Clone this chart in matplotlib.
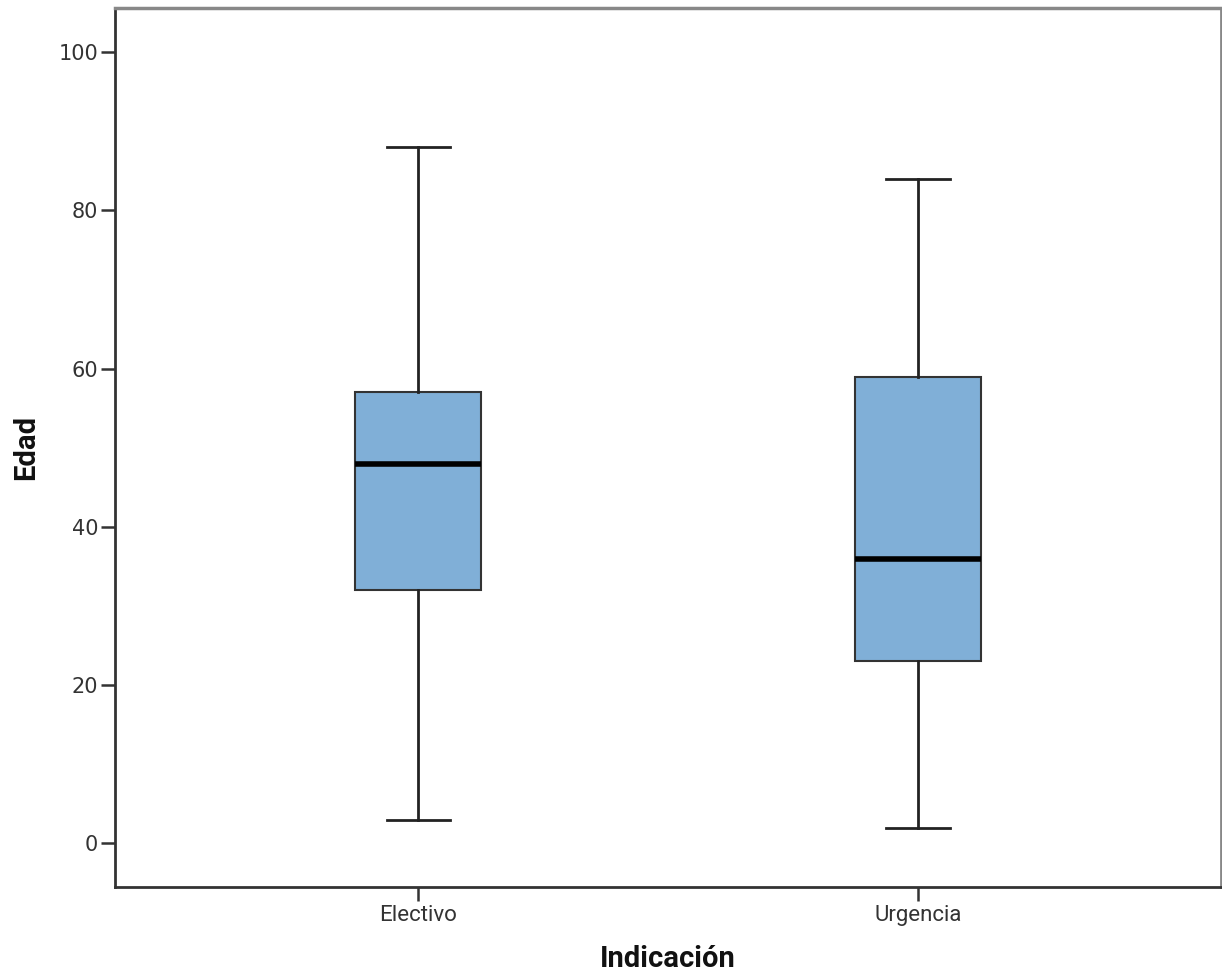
import matplotlib
matplotlib.use("Agg")
import matplotlib.pyplot as plt

# values
categories = ["Electivo", "Urgencia"]
whisker_low = [3, 2]
q1 = [32, 23]
median = [48, 36]
q3 = [57, 59]
whisker_high = [88, 84]
yticks = [0, 20, 40, 60, 80, 100]

box_color = "#80afd7"
narrow = ["Roboto", "DejaVu Sans"]

stats = []
for i, name in enumerate(categories):
    stats.append({
        "label": name,
        "whislo": whisker_low[i],
        "q1": q1[i],
        "med": median[i],
        "q3": q3[i],
        "whishi": whisker_high[i],
        "fliers": [],
    })

fig = plt.figure(figsize=(12.22, 9.76), dpi=100)
ax = fig.add_axes([0.0941, 0.0912, 0.9051, 0.9006])

ax.bxp(stats, positions=[1, 2], widths=0.253, patch_artist=True,
       showfliers=False,
       boxprops=dict(facecolor=box_color, edgecolor="#333333", linewidth=1.5),
       medianprops=dict(color="black", linewidth=4),
       whiskerprops=dict(color="#222222", linewidth=2),
       capprops=dict(color="#222222", linewidth=2),
       capwidths=0.127)

ax.set_xlim(0.393, 2.607)
ax.set_ylim(-5.5, 105.56)
ax.set_yticks(yticks)
ax.set_yticklabels([str(t) for t in yticks], fontsize=15, color="#333333")
ax.set_xticks([1, 2])
ax.set_xticklabels(categories, fontsize=16, color="#333333", family=narrow)

ax.tick_params(axis="both", direction="out", length=10, width=1.8, color="#333333")
ax.tick_params(axis="y", pad=2)
ax.tick_params(axis="x", pad=3)

ax.spines["left"].set_color("#333333")
ax.spines["left"].set_linewidth(2)
ax.spines["bottom"].set_color("#333333")
ax.spines["bottom"].set_linewidth(2)
ax.spines["top"].set_color("#888888")
ax.spines["top"].set_linewidth(2.5)
ax.spines["right"].set_color("#888888")
ax.spines["right"].set_linewidth(2)

ax.set_xlabel("Indicación", fontsize=21, fontweight="bold", family=narrow,
              color="#111111", labelpad=14)
ax.set_ylabel("Edad", fontsize=21, fontweight="bold", family=narrow,
              color="#111111", labelpad=13)

fig.savefig("out.png", dpi=100)
